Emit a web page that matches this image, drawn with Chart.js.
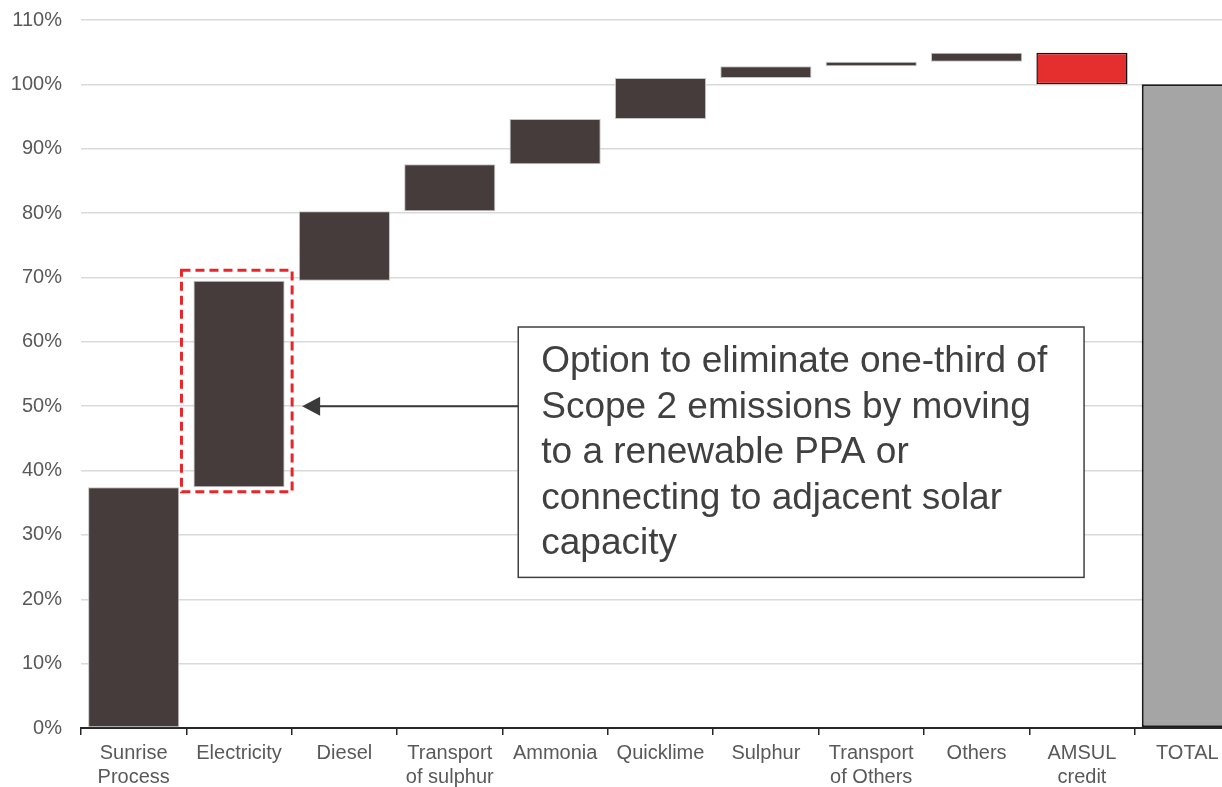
<!DOCTYPE html>
<html>
<head>
<meta charset="utf-8">
<script src="https://cdn.jsdelivr.net/npm/chart.js@4.4.1/dist/chart.umd.min.js"></script>
<style>
  html, body { margin: 0; padding: 0; background: #fff; overflow: hidden; }
  #wrap { width: 1222px; height: 787px; overflow: hidden; position: relative; }
  #box { width: 1240px; height: 806px; position: absolute; left: 0; top: -11px; }
</style>
</head>
<body>
<div id="wrap"><div id="box"><canvas id="c"></canvas></div></div>
<script>
// Emission contributions (% of total), waterfall steps
const categories = [
  ['Sunrise', 'Process'], 'Electricity', 'Diesel', ['Transport', 'of sulphur'],
  'Ammonia', 'Quicklime', 'Sulphur', ['Transport', 'of Others'], 'Others',
  ['AMSUL', 'credit'], 'TOTAL'
];
const steps = [37.4, 32.1, 10.8, 7.3, 7.0, 6.4, 1.8, 0.7, 1.4, -4.9];
const totalValue = 100;
const yTicks = [0, 10, 20, 30, 40, 50, 60, 70, 80, 90, 100, 110];

const noteLines = [
  'Option to eliminate one-third of',
  'Scope 2 emissions by moving',
  'to a renewable PPA or',
  'connecting to adjacent solar',
  'capacity'
];

// floating [start, end] ranges for each step, then the total bar
const ranges = [];
let running = 0;
steps.forEach(s => { ranges.push([running, running + s]); running += s; });
ranges.push([0, totalValue]);

const DARK = '#453c3b', RED = '#e52e2e', GREY = '#a5a5a5';
const last = ranges.length - 1;
const fills = ranges.map((r, i) => i === last ? GREY : (r[1] < r[0] ? RED : DARK));
const borders = ranges.map((r, i) => i === last ? '#1a1a1a' : (r[1] < r[0] ? '#111' : '#c4c4c4'));
const borderW = ranges.map((r, i) => i === last ? 2 : (r[1] < r[0] ? 1.5 : 1));

const FONT = "'Liberation Sans', Arial, sans-serif";

const callout = {
  id: 'callout',
  afterDatasetsDraw(chart) {
    const ctx = chart.ctx;
    const xs = chart.scales.x, ys = chart.scales.y;
    const bar = chart.getDatasetMeta(0).data[1];
    const half = bar.width / 2;
    const top = Math.min(bar.y, bar.base), bot = Math.max(bar.y, bar.base);

    // dashed highlight around the Electricity bar
    ctx.save();
    ctx.strokeStyle = '#e8262a';
    ctx.lineWidth = 3;
    ctx.setLineDash([9, 5]);
    const hx0 = bar.x - half - 12, hx1 = bar.x + half + 7.5;
    const hy0 = top - 10.5, hy1 = bot + 4.5;
    ctx.strokeRect(hx0, hy0, hx1 - hx0, hy1 - hy0);
    ctx.restore();

    // text box
    const bx0 = xs.getPixelForValue(3.65), bx1 = xs.getPixelForValue(9.02);
    const by0 = ys.getPixelForValue(62.3), by1 = ys.getPixelForValue(23.4);
    ctx.save();
    ctx.fillStyle = '#fff';
    ctx.fillRect(bx0, by0, bx1 - bx0, by1 - by0);
    ctx.strokeStyle = '#404040';
    ctx.lineWidth = 1.5;
    ctx.strokeRect(bx0, by0, bx1 - bx0, by1 - by0);
    ctx.fillStyle = '#404040';
    ctx.font = "37px " + FONT;
    ctx.textBaseline = 'middle';
    ctx.textAlign = 'left';
    noteLines.forEach((t, i) => ctx.fillText(t, bx0 + 23, by0 + 35 + i * 45.5));

    // arrow from box to the highlight
    const ay = ys.getPixelForValue(50);
    const tip = hx1 + 10;
    ctx.strokeStyle = '#3a3a3a';
    ctx.lineWidth = 2;
    ctx.beginPath();
    ctx.moveTo(bx0, ay);
    ctx.lineTo(tip + 16, ay);
    ctx.stroke();
    ctx.fillStyle = '#3a3a3a';
    ctx.beginPath();
    ctx.moveTo(tip, ay);
    ctx.lineTo(tip + 18, ay - 9.5);
    ctx.lineTo(tip + 18, ay + 9.5);
    ctx.closePath();
    ctx.fill();
    ctx.restore();
  }
};

new Chart(document.getElementById('c'), {
  type: 'bar',
  data: {
    labels: categories,
    datasets: [{
      data: ranges,
      backgroundColor: fills,
      borderColor: borders,
      borderWidth: borderW,
      borderSkipped: false,
      categoryPercentage: 1,
      barPercentage: 0.865
    }]
  },
  options: {
    responsive: true,
    maintainAspectRatio: false,
    animation: false,
    layout: { padding: { top: 0, right: 0, left: 0, bottom: 0 } },
    plugins: { legend: { display: false }, tooltip: { enabled: false } },
    scales: {
      x: {
        grid: { drawOnChartArea: false, drawTicks: true, tickLength: 7, color: '#262626', lineWidth: 1.5, offset: true },
        border: { display: true, color: '#262626', width: 2 },
        ticks: { color: '#595959', font: { family: FONT, size: 20, lineHeight: 1.2 }, padding: 6, maxRotation: 0, autoSkip: false }
      },
      y: {
        min: 0, max: 110,
        afterBuildTicks: (s) => { s.ticks = yTicks.map(v => ({ value: v })); },
        afterFit: (s) => { s.width = 81; },
        grid: { color: '#d9d9d9', lineWidth: 1.5, drawTicks: false },
        border: { display: false },
        ticks: { color: '#595959', font: { family: FONT, size: 20 }, padding: 19, callback: v => v + '%' }
      }
    }
  },
  plugins: [callout]
});
</script>
</body>
</html>
